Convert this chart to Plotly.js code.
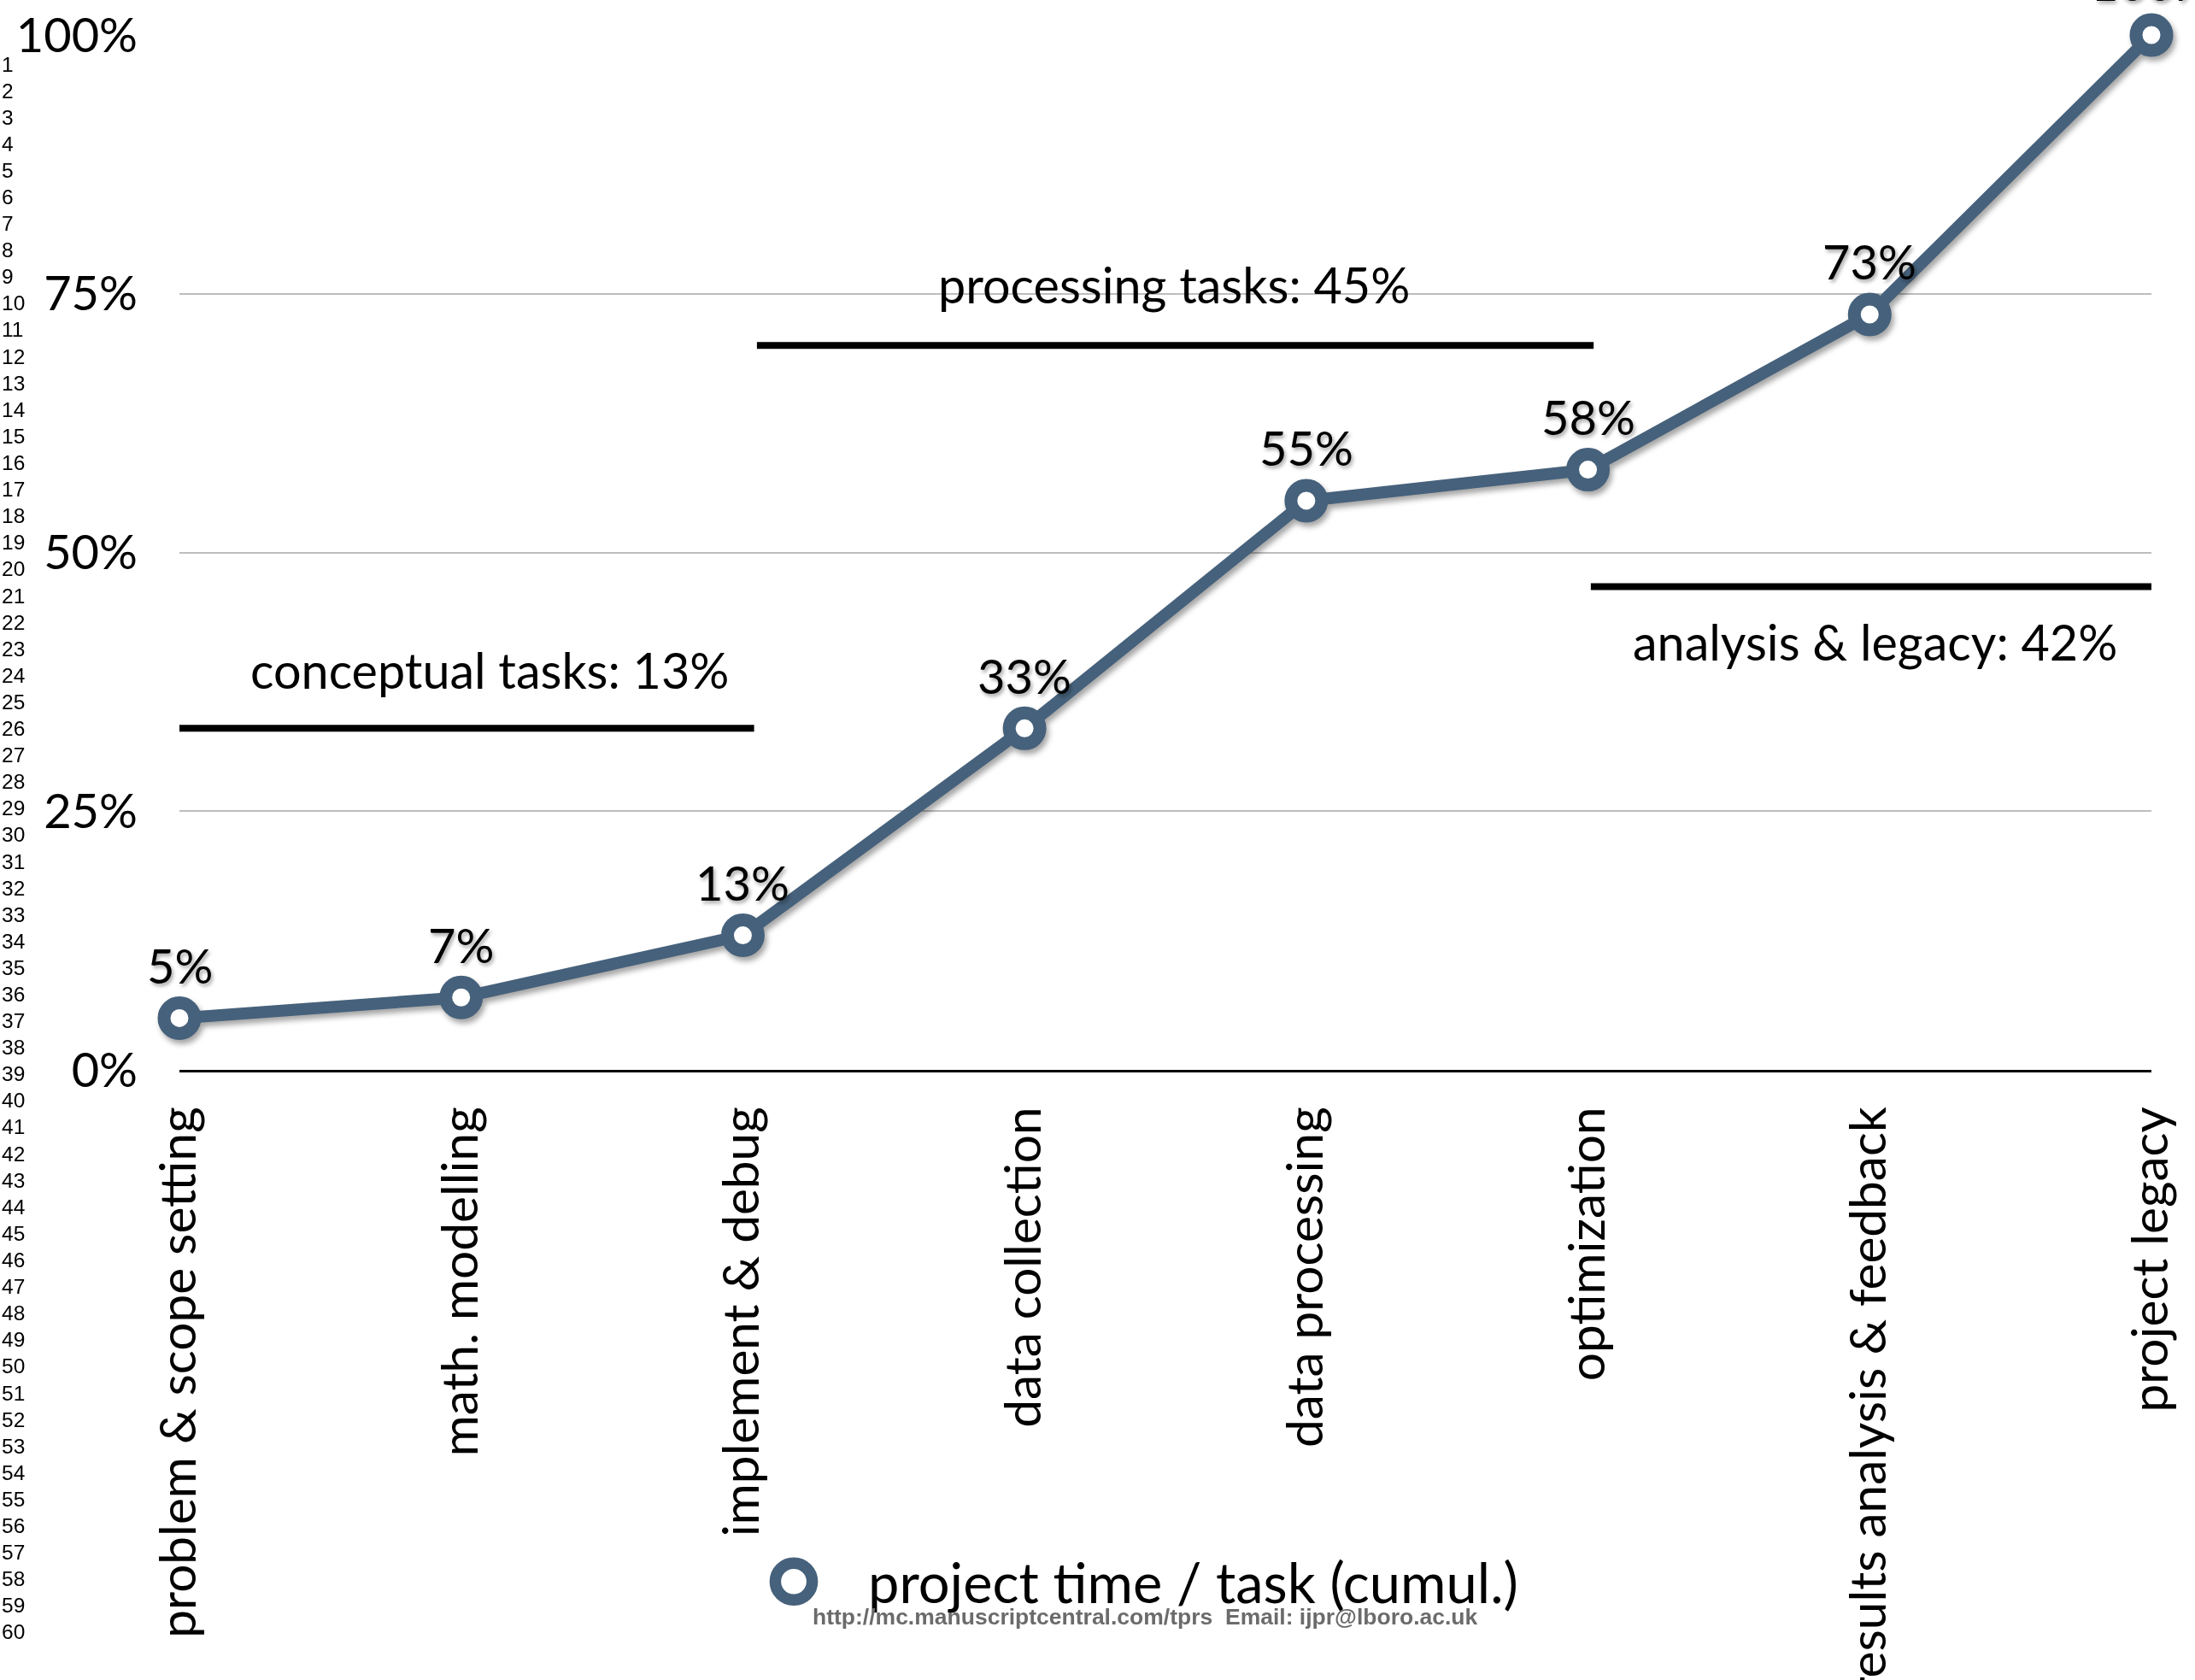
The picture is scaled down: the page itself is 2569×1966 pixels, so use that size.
<!DOCTYPE html>
<html><head><meta charset="utf-8">
<script src="https://cdn.plot.ly/plotly-3.0.1.min.js"></script>
<style>
html,body{margin:0;padding:0;background:#fff;overflow:hidden;}
#chart{width:2569px;height:1966px;}
.scatterlayer .trace{filter:drop-shadow(3px 5px 3px rgba(0,0,0,0.35));}
.legend .legendpoints path.scatterpts{transform:translate(87px,0px) scale(2.7);}
.legend .legendlines{display:none;}
</style></head><body><div id="chart"></div>
<script>
// ---- data ----
const categories = ['problem & scope setting','math. modelling','implement & debug','data collection','data processing','optimization','results analysis & feedback','project legacy'];
const cumulativeShare = [5, 7, 13, 33, 55, 58, 73, 100];
const yTickValues = [0, 25, 50, 75, 100];
const yTickLabels = ['0%', '25%', '50%', '75%', '100%'];
const groupNames = ['conceptual tasks: 13%', 'processing tasks: 45%', 'analysis & legacy: 42%'];
const groupStart = [0, 2.05, 5.01];
const groupEnd = [2.04, 5.02, 7.03];
const groupLevel = [33, 70, 46.7];
const groupLabelX = [1.1, 3.53, 6.02];
const groupLabelY = [38.7, 75.9, 41.4];
const seriesName = 'project time / task (cumul.)';
const footerText = 'http://mc.manuscriptcentral.com/tprs\u00a0 Email: ijpr@lboro.ac.uk';
const lineNumbers = Array.from({length: 60}, (_, i) => String(i + 1));

// ---- layout geometry ----
const W = 2569, H = 1966;
const M = {l: 210, r: 51, t: 41, b: 714};
const plotW = W - M.l - M.r, plotH = H - M.t - M.b;
const px2paperX = px => (px - M.l) / plotW;
const px2paperY = py => (H - M.b - py) / plotH;

const FONT = 'Lato, "Open Sans", sans-serif';
const LINE_COLOR = '#46617b';

const trace = {
  type: 'scatter',
  mode: 'lines+markers',
  x: categories,
  y: cumulativeShare,
  name: seriesName,
  cliponaxis: false,
  line: {color: LINE_COLOR, width: 14},
  marker: {symbol: 'circle', size: 36, color: '#ffffff', line: {color: LINE_COLOR, width: 15}},
  hoverinfo: 'skip'
};

const annotations = [];
categories.forEach((c, i) => {
  annotations.push({
    x: c, y: cumulativeShare[i], xref: 'x', yref: 'y',
    text: cumulativeShare[i] + '%', showarrow: false, yshift: 62,
    font: {family: FONT, size: 56, color: '#000', shadow: '2px 3px 4px rgba(0,0,0,0.35)'}
  });
});
groupNames.forEach((g, i) => {
  annotations.push({
    x: groupLabelX[i], y: groupLabelY[i], xref: 'x', yref: 'y',
    text: g, showarrow: false,
    font: {family: FONT, size: 57.5, color: '#000'}
  });
});
lineNumbers.forEach((n, i) => {
  annotations.push({
    x: px2paperX(0), y: px2paperY(75 + i * 31.1), xref: 'paper', yref: 'paper',
    xanchor: 'left', yanchor: 'middle', text: n, showarrow: false,
    font: {family: '"Liberation Sans", Arial, sans-serif', size: 24.5, color: '#000'}
  });
});
annotations.push({
  x: px2paperX(1340), y: px2paperY(1892), xref: 'paper', yref: 'paper',
  text: footerText, showarrow: false, xanchor: 'center', yanchor: 'middle',
  font: {family: '"Liberation Sans", Arial, sans-serif', size: 26.5, color: '#6b6b6b', weight: 'bold'}
});

const shapes = groupNames.map((g, i) => ({
  type: 'line', xref: 'x', yref: 'y',
  x0: groupStart[i], x1: groupEnd[i], y0: groupLevel[i], y1: groupLevel[i],
  line: {color: '#000', width: 8}
}));

const layout = {
  width: W, height: H,
  margin: M,
  paper_bgcolor: '#fff', plot_bgcolor: '#fff',
  font: {family: FONT, color: '#000'},
  showlegend: true,
  legend: {
    orientation: 'h', x: px2paperX(842), xanchor: 'left',
    y: px2paperY(1851), yanchor: 'middle',
    font: {family: FONT, size: 65, color: '#000'},
    itemwidth: 164, bgcolor: 'rgba(0,0,0,0)'
  },
  xaxis: {
    type: 'category', range: [0, 7],
    showgrid: false, zeroline: false,
    showline: true, linecolor: '#000', linewidth: 3,
    ticks: '', tickangle: -90, ticklabelstandoff: 17,
    tickfont: {family: FONT, size: 58.5, color: '#000'},
    fixedrange: true
  },
  yaxis: {
    range: [0, 100], tickvals: yTickValues, ticktext: yTickLabels,
    showgrid: true, gridcolor: '#bdbdbd', gridwidth: 2,
    zeroline: false, showline: false, ticks: '', ticklabelstandoff: 48,
    tickfont: {family: FONT, size: 56, color: '#000'},
    fixedrange: true
  },
  annotations: annotations,
  shapes: shapes
};

Plotly.newPlot('chart', [trace], layout, {displayModeBar: false, staticPlot: true});
</script></body></html>
